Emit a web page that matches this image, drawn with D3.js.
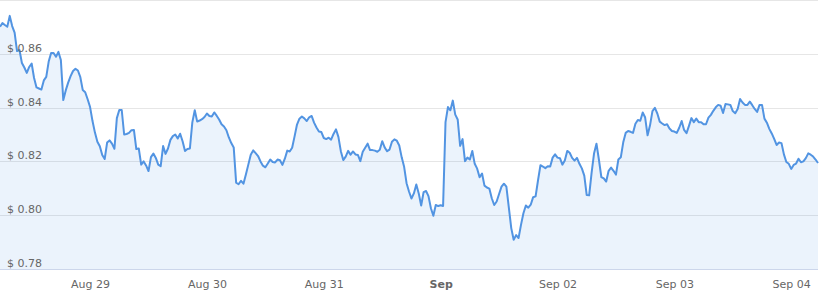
<!DOCTYPE html>
<html>
<head>
<meta charset="utf-8">
<script src="https://cdn.jsdelivr.net/npm/d3@7"></script>
<style>
  body { margin: 0; background: #fff; }
  svg { display: block; font-family: "DejaVu Sans", Verdana, sans-serif; }
</style>
</head>
<body>
<div class="chart"></div>
<script>
// price, every 30 min, starting 2019-08-28 05:30
const startTime = new Date(2019, 7, 28, 5, 30);
const stepMinutes = 30;
const prices = [
  0.8701, 0.8714, 0.8707, 0.8701, 0.8741, 0.8703, 0.8679, 0.8610, 0.8614, 0.8566,
  0.8549, 0.8529, 0.8551, 0.8564, 0.8510, 0.8475, 0.8471, 0.8467, 0.8501, 0.8514,
  0.8571, 0.8603, 0.8603, 0.8589, 0.8607, 0.8577, 0.8428, 0.8464, 0.8493, 0.8517,
  0.8536, 0.8544, 0.8538, 0.8513, 0.8465, 0.8457, 0.8431, 0.8402, 0.8350, 0.8307,
  0.8273, 0.8256, 0.8224, 0.8209, 0.8270, 0.8278, 0.8266, 0.8247, 0.8361, 0.8391,
  0.8391, 0.8300, 0.8302, 0.8306, 0.8316, 0.8317, 0.8246, 0.8248, 0.8188, 0.8200,
  0.8185, 0.8164, 0.8216, 0.8229, 0.8213, 0.8188, 0.8182, 0.8257, 0.8228, 0.8248,
  0.8280, 0.8294, 0.8300, 0.8285, 0.8303, 0.8275, 0.8239, 0.8246, 0.8248, 0.8345,
  0.8390, 0.8348, 0.8352, 0.8357, 0.8365, 0.8378, 0.8369, 0.8367, 0.8382, 0.8370,
  0.8356, 0.8338, 0.8330, 0.8316, 0.8289, 0.8268, 0.8252, 0.8121, 0.8115, 0.8128,
  0.8117, 0.8151, 0.8188, 0.8225, 0.8241, 0.8231, 0.8220, 0.8200, 0.8184, 0.8178,
  0.8192, 0.8207, 0.8198, 0.8196, 0.8207, 0.8204, 0.8187, 0.8210, 0.8240, 0.8237,
  0.8251, 0.8293, 0.8337, 0.8359, 0.8367, 0.8360, 0.8350, 0.8364, 0.8369, 0.8344,
  0.8326, 0.8311, 0.8309, 0.8287, 0.8283, 0.8288, 0.8281, 0.8302, 0.8319, 0.8291,
  0.8238, 0.8205, 0.8218, 0.8239, 0.8225, 0.8237, 0.8226, 0.8224, 0.8201, 0.8236,
  0.8251, 0.8266, 0.8242, 0.8242, 0.8240, 0.8236, 0.8243, 0.8275, 0.8252, 0.8238,
  0.8244, 0.8273, 0.8282, 0.8277, 0.8259, 0.8215, 0.8180, 0.8119, 0.8088, 0.8062,
  0.8081, 0.8114, 0.8081, 0.8036, 0.8086, 0.8090, 0.8071, 0.8026, 0.7998, 0.8038,
  0.8034, 0.8037, 0.8034, 0.8346, 0.8402, 0.8390, 0.8426, 0.8374, 0.8356, 0.8258,
  0.8283, 0.8201, 0.8214, 0.8207, 0.8239, 0.8191, 0.8173, 0.8141, 0.8155, 0.8110,
  0.8103, 0.8099, 0.8063, 0.8038, 0.8051, 0.8079, 0.8106, 0.8117, 0.8106, 0.8029,
  0.7952, 0.7909, 0.7926, 0.7915, 0.7964, 0.8007, 0.8036, 0.8028, 0.8039, 0.8067,
  0.8070, 0.8130, 0.8186, 0.8181, 0.8175, 0.8182, 0.8181, 0.8214, 0.8226, 0.8214,
  0.8212, 0.8188, 0.8203, 0.8239, 0.8232, 0.8213, 0.8203, 0.8213, 0.8191, 0.8174,
  0.8147, 0.8075, 0.8074, 0.8157, 0.8229, 0.8266, 0.8207, 0.8142, 0.8137, 0.8125,
  0.8165, 0.8177, 0.8165, 0.8151, 0.8207, 0.8215, 0.8271, 0.8306, 0.8313, 0.8310,
  0.8306, 0.8340, 0.8354, 0.8351, 0.8382, 0.8363, 0.8297, 0.8334, 0.8387, 0.8399,
  0.8378, 0.8348, 0.8341, 0.8335, 0.8338, 0.8322, 0.8313, 0.8311, 0.8306, 0.8325,
  0.8350, 0.8317, 0.8305, 0.8332, 0.8361, 0.8346, 0.8359, 0.8346, 0.8346, 0.8338,
  0.8338, 0.8363, 0.8373, 0.8388, 0.8401, 0.8410, 0.8407, 0.8380, 0.8413, 0.8412,
  0.8410, 0.8387, 0.8379, 0.8395, 0.8432, 0.8419, 0.8410, 0.8410, 0.8422, 0.8409,
  0.8395, 0.8384, 0.8410, 0.8410, 0.8359, 0.8344, 0.8321, 0.8304, 0.8284, 0.8261,
  0.8270, 0.8268, 0.8226, 0.8198, 0.8191, 0.8172, 0.8187, 0.8192, 0.8210, 0.8197,
  0.8200, 0.8212, 0.8230, 0.8225, 0.8218, 0.8207, 0.8194
];
const yTicks = [0.78, 0.80, 0.82, 0.84, 0.86, 0.88];
const xTickDays = [
  new Date(2019, 7, 29), new Date(2019, 7, 30), new Date(2019, 7, 31),
  new Date(2019, 8, 1), new Date(2019, 8, 2), new Date(2019, 8, 3), new Date(2019, 8, 4)
];

const data = prices.map((p, i) => ({
  date: d3.timeMinute.offset(startTime, i * stepMinutes),
  price: p
}));

const width = 822, height = 300;
const plotW = 818, plotH = 269;

const svg = d3.select('.chart')
  .append('svg')
    .attr('width', width)
    .attr('height', height);

const x = d3.scaleTime()
  .domain(d3.extent(data, d => d.date))
  .range([0, plotW]);
const y = d3.scaleLinear()
  .domain([0.78, 0.88])
  .range([plotH, 0]);

// grid
svg.append('g')
  .selectAll('line')
  .data(yTicks)
  .enter().append('line')
    .attr('x1', 0)
    .attr('x2', plotW)
    .attr('y1', d => Math.round(y(d)) + 0.5)
    .attr('y2', d => Math.round(y(d)) + 0.5)
    .attr('stroke', d => d === 0.78 ? '#ccd6eb' : '#e6e6e6')
    .attr('stroke-width', 1);

const area = d3.area()
  .x(d => x(d.date))
  .y0(y(0.78))
  .y1(d => y(d.price));

const line = d3.line()
  .x(d => x(d.date))
  .y(d => y(d.price));

svg.append('path')
  .datum(data)
  .attr('fill', '#4a90e2')
  .attr('fill-opacity', 0.11)
  .attr('d', area);

svg.append('path')
  .datum(data)
  .attr('fill', 'none')
  .attr('stroke', '#5294e2')
  .attr('stroke-width', 2)
  .attr('stroke-linejoin', 'round')
  .attr('d', line);

// y labels, inside the plot
svg.append('g')
  .selectAll('text')
  .data(yTicks.filter(d => d < 0.88))
  .enter().append('text')
    .attr('x', 7)
    .attr('y', d => y(d) - 2)
    .attr('font-size', 11)
    .attr('fill', '#666666')
    .text(d => '$ ' + d.toFixed(2));

// x axis
const xAxis = d3.axisBottom(x)
  .tickValues(xTickDays)
  .tickSize(0)
  .tickPadding(0)
  .tickFormat(d => d.getDate() === 1 ? d3.timeFormat('%b')(d) : d3.timeFormat('%b %d')(d));

const gx = svg.append('g')
  .attr('transform', `translate(0, ${plotH})`)
  .call(xAxis);

gx.select('.domain').remove();
gx.selectAll('text')
  .attr('y', 19)
  .attr('dy', 0)
  .attr('font-size', 11)
  .attr('font-family', '"DejaVu Sans", Verdana, sans-serif')
  .attr('fill', '#666666')
  .attr('font-weight', d => d.getDate() === 1 ? 'bold' : 'normal');
</script>
</body>
</html>
